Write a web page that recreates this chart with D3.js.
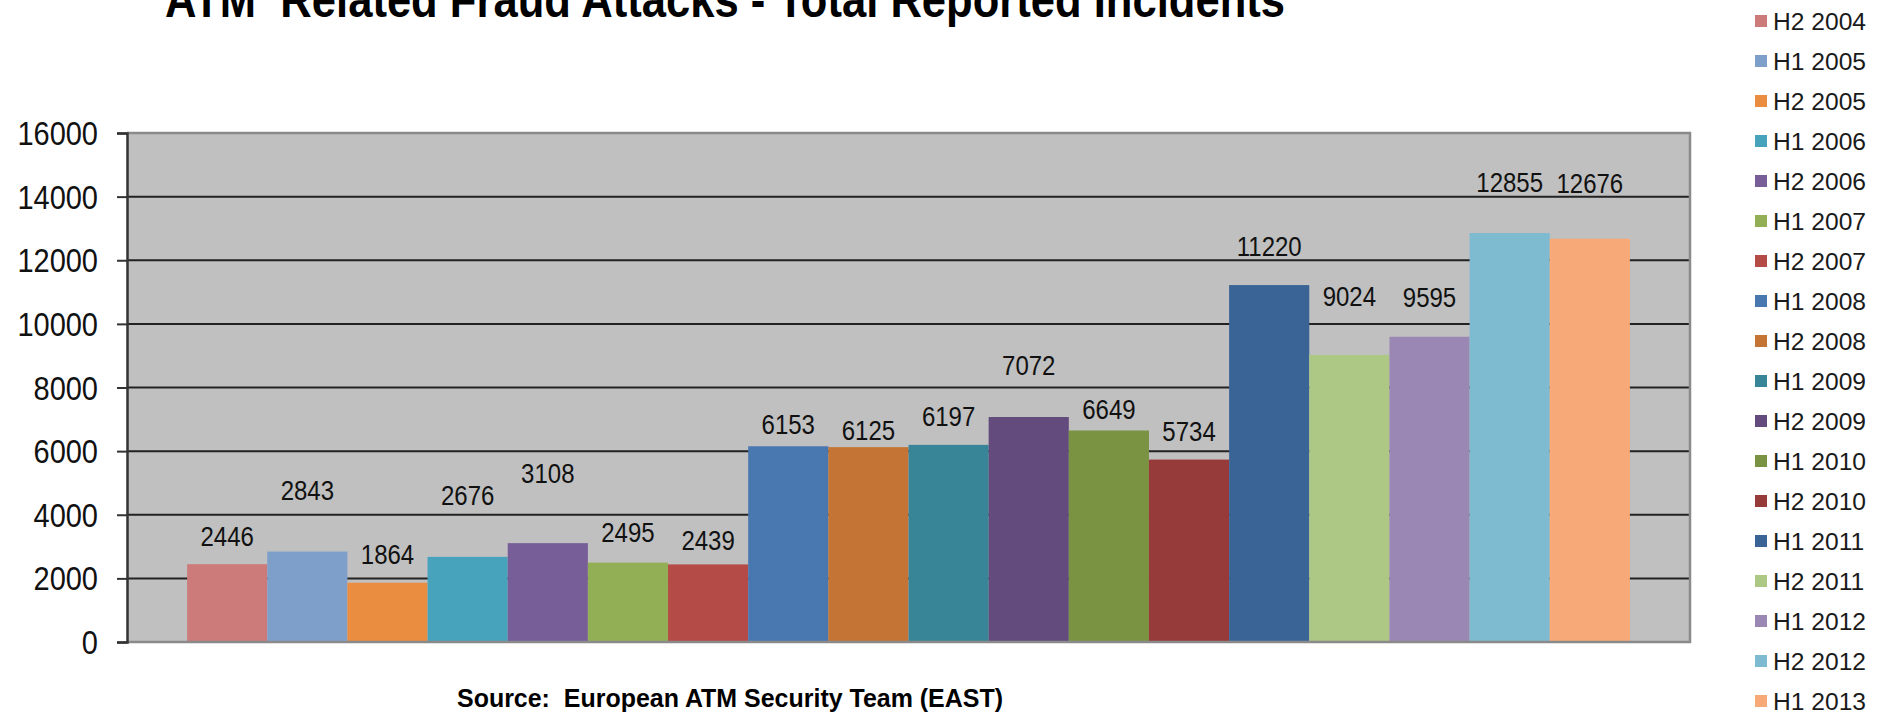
<!DOCTYPE html>
<html>
<head>
<meta charset="utf-8">
<script src="https://cdn.jsdelivr.net/npm/d3@7"></script>
<style>
  html, body { margin: 0; padding: 0; background: #ffffff; }
  svg { display: block; font-family: "Liberation Sans", Arial, sans-serif; }
</style>
</head>
<body>
<svg id="chart" width="1889" height="714"></svg>
<script>
// ---- data ----
const periods = ["H2 2004","H1 2005","H2 2005","H1 2006","H2 2006","H1 2007","H2 2007",
  "H1 2008","H2 2008","H1 2009","H2 2009","H1 2010","H2 2010","H1 2011","H2 2011",
  "H1 2012","H2 2012","H1 2013"];
const incidents = [2446,2843,1864,2676,3108,2495,2439,6153,6125,6197,7072,6649,5734,
  11220,9024,9595,12855,12676];
const yTicks = [0,2000,4000,6000,8000,10000,12000,14000,16000];
const colors = ["#cc7b7a","#7f9fcb","#eb8d41","#47a3bb","#775e99","#92af56","#b54b47",
  "#4977b0","#c47434","#388597","#634b7d","#7a9343","#973b3a","#3b6496","#adc784",
  "#9b87b3","#7ebad0","#f7a978"];
// layout: manual lift (px) of each data label above its bar top, as in the source
const labelLift = [28,62,29,62,70,31,24,22,17,29,52,21,29,39,59,40,51,56];

const titleText = "ATM  Related Fraud Attacks - Total Reported Incidents";
const sourceText = "Source:  European ATM Security Team (EAST)";

// ---- layout ----
const plot = { left: 127, right: 1690, top: 133, bottom: 642 };
const svg = d3.select("#chart");

const x = d3.scaleBand().domain(periods).range([plot.left, plot.right])
  .paddingInner(0).paddingOuter(0.75);
const y = d3.scaleLinear().domain([0, 16000]).range([plot.bottom, plot.top]);
const color = d3.scaleOrdinal().domain(periods).range(colors);

// plot background
svg.append("rect")
  .attr("x", plot.left).attr("y", plot.top)
  .attr("width", plot.right - plot.left).attr("height", plot.bottom - plot.top)
  .attr("fill", "#c0c0c0");

// gridlines
svg.append("g").selectAll("line").data(yTicks.filter(d => d > 0 && d < 16000)).join("line")
  .attr("x1", plot.left).attr("x2", plot.right)
  .attr("y1", d => y(d)).attr("y2", d => y(d))
  .attr("stroke", "#222").attr("stroke-width", 2);

// bars
const rows = periods.map((p, i) => ({ p, v: incidents[i], lift: labelLift[i] }));
svg.append("g").selectAll("rect").data(rows).join("rect")
  .attr("x", d => x(d.p)).attr("width", x.bandwidth())
  .attr("y", d => y(d.v)).attr("height", d => y(0) - y(d.v))
  .attr("fill", d => color(d.p));

// plot border (grey) on top, right, bottom
svg.append("path")
  .attr("d", `M${plot.left},${plot.top}H${plot.right}V${plot.bottom}H${plot.left}`)
  .attr("fill", "none").attr("stroke", "#8a8a8a").attr("stroke-width", 2.5);

// y axis
const yAxis = d3.axisLeft(y).tickValues(yTicks).tickSize(10).tickFormat("");
const ag = svg.append("g").attr("transform", `translate(${plot.left},0)`).call(yAxis);
ag.select(".domain").attr("stroke", "#333").attr("stroke-width", 2.5);
ag.selectAll(".tick line").attr("stroke", "#333").attr("stroke-width", 2);

svg.append("g").selectAll("text").data(yTicks).join("text")
  .attr("transform", d => `translate(98,${y(d)}) scale(1,1.16)`)
  .attr("dy", "0.358em")
  .attr("text-anchor", "end")
  .attr("font-size", 29)
  .attr("fill", "#111")
  .text(d => d);

// data labels
svg.append("g").selectAll("text").data(rows).join("text")
  .attr("transform", d => `translate(${x(d.p) + x.bandwidth() / 2},${y(d.v) - d.lift}) scale(1,1.16)`)
  .attr("dy", "0.358em")
  .attr("text-anchor", "middle")
  .attr("font-size", 24)
  .attr("fill", "#111")
  .text(d => d.v);

// title
svg.append("text")
  .attr("transform", "translate(165,17) scale(1,1.15)")
  .attr("font-size", 44).attr("font-weight", "bold")
  .attr("fill", "#000")
  .style("white-space", "pre")
  .attr("textLength", 1120).attr("lengthAdjust", "spacingAndGlyphs")
  .text(titleText);

// source
svg.append("text")
  .attr("transform", "translate(457,707) scale(1,1.15)")
  .attr("font-size", 23).attr("font-weight", "bold")
  .attr("fill", "#000")
  .style("white-space", "pre")
  .attr("textLength", 546).attr("lengthAdjust", "spacingAndGlyphs")
  .text(sourceText);

// legend
const legY = d3.scalePoint().domain(periods).range([21, 701]);
const lg = svg.append("g").selectAll("g").data(periods).join("g")
  .attr("transform", d => `translate(1755,${legY(d)})`);
lg.append("rect").attr("x", 0).attr("y", -6).attr("width", 12).attr("height", 12)
  .attr("fill", d => color(d));
lg.append("text").attr("x", 18).attr("y", 9)
  .attr("font-size", 24.6).attr("fill", "#1a1a1a")
  .text(d => d);
</script>
</body>
</html>
